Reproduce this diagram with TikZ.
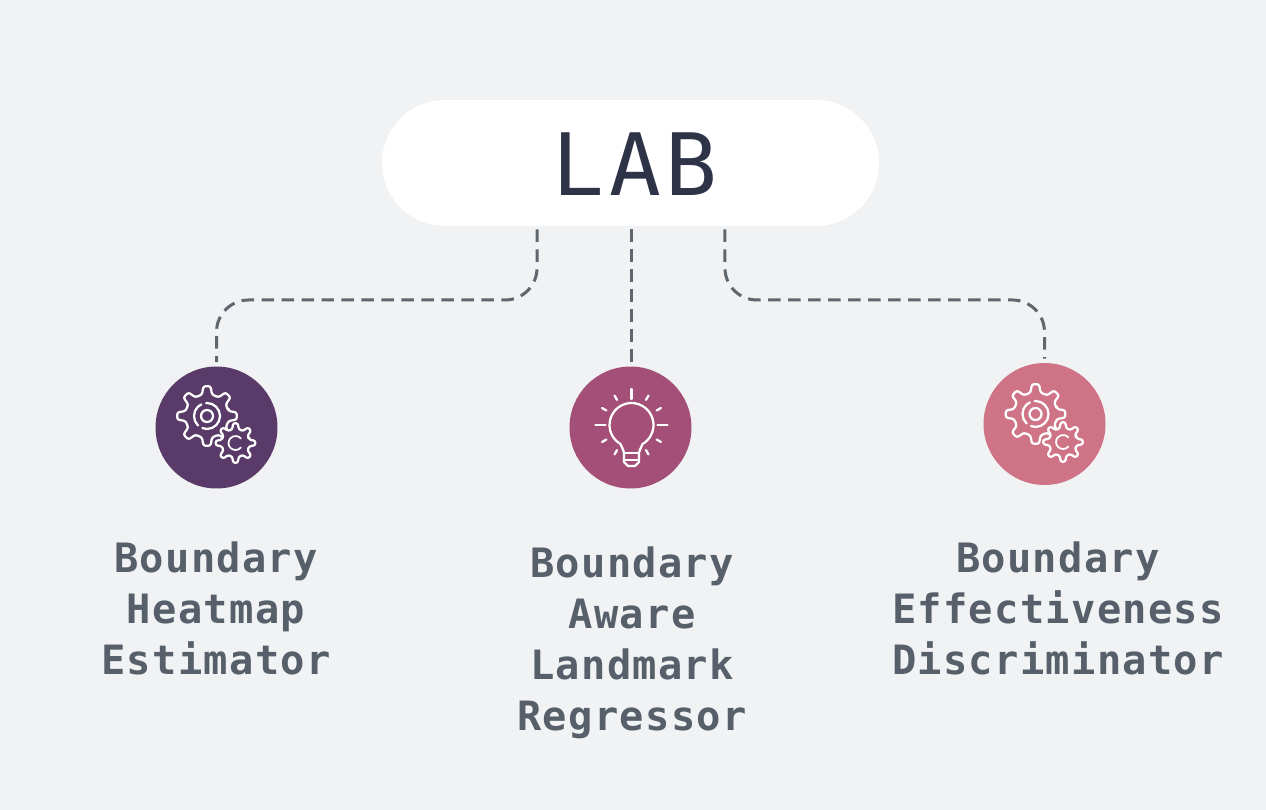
\documentclass[tikz,border=0pt]{standalone}
\usepackage{fontspec}
\newfontfamily\pillfont[LetterSpace=5.5]{DejaVu Sans Mono}
\newfontfamily\labelfont[LetterSpace=3.2]{DejaVu Sans Mono Bold}
\usetikzlibrary{positioning, calc}
\definecolor{labBg}{RGB}{240,242,244}
\definecolor{labInk}{RGB}{47,51,71}
\definecolor{labText}{RGB}{87,96,106}
\definecolor{labLink}{RGB}{95,102,109}
\definecolor{labPlum}{RGB}{90,58,105}
\definecolor{labRose}{RGB}{163,79,119}
\definecolor{labPink}{RGB}{207,116,134}
% one toothed wheel: centre x, centre y, outer radius, root radius, fill
\newcommand{\gearwheel}[5]{
\draw[iconline, rounded corners=1.3pt, fill=#5, shift={(#1,#2)}] (-13:#4)
  \foreach \a in {0,45,...,315} { -- (\a-13:#4) -- (\a-7:#3) -- (\a+7:#3) -- (\a+13:#4) } -- cycle;
}
\begin{document}
\begin{tikzpicture}[
    x=0.02cm, y=-0.02cm,
    pillbox/.style={fill=white, rectangle, rounded corners=1.26cm, inner sep=0pt, minimum width=9.94cm, minimum height=2.52cm, text=labInk},
    pilltext/.style={font=\pillfont\fontsize{49}{49}\selectfont, text=labInk, inner sep=0pt},
    iconbox/.style={circle, inner sep=0pt, minimum size=2.44cm},
    labeltext/.style={align=center, text=labText, font=\labelfont\fontsize{23}{29}\selectfont},
    link/.style={draw=labLink, line width=0.06cm, dash pattern=on 0.25cm off 0.15cm, rounded corners=0.64cm, shorten <=0.06cm, shorten >=0.08cm},
    iconline/.style={draw=white, line width=0.045cm, line cap=round, line join=round}
]
\useasboundingbox (0,0) rectangle (1266,810);
\fill[labBg] (0,0) rectangle (1266,810);

% Top pill
\node (lab) [pillbox] at (630.5,163) {};
\node (labText) [pilltext] at (635,164) {LAB};

% Circles
\node (heat) [iconbox, fill=labPlum] at (216.5,427.5) {};
\node (aware) [iconbox, fill=labRose] at (630.5,427.5) {};
\node (disc) [iconbox, fill=labPink] at (1044.5,424) {};

% Connectors
\coordinate (midL) at (377,300);
\coordinate (midR) at (885,300);
\draw[link] ([xshift=-1.87cm]lab.south) |- (midL) -| (heat.north);
\draw[link] ([xshift=0.02cm]lab.south) -- ([xshift=0.02cm]aware.north);
\draw[link] ([xshift=1.89cm]lab.south) |- (midR) -| (disc.north);

% Gears left
\gearwheel{207}{416}{30}{22}{labPlum}
\draw[iconline] (207,416) circle[radius=6];
\draw[iconline, dash pattern=on 0.5cm off 0.1cm] (207,416) circle[radius=13];
\gearwheel{235.5}{443}{20}{14}{labPlum}
\draw[iconline, line width=0.035cm] (235.5,443) ++(40:7) arc[start angle=40, end angle=320, radius=7];

% Bulb
\draw[iconline] (631.5,425) ++(120:22) arc[start angle=120, end angle=420, radius=22]
  .. controls (640,450) and (639,451) .. (639,453) -- (639,462) -- (635,466) -- (628,466) -- (624,462) -- (624,453)
  .. controls (624,451) and (623,450) .. (620.5,444);
\draw[iconline] (624,453) -- (639,453) (625,460) -- (638,460);
\foreach \a in {0,90,180} \draw[iconline] (631.5,425) ++(-\a:26) -- ++(-\a:10);
\foreach \a in {30,60,120,150,210,240,300,330} \draw[iconline] (631.5,425) ++(-\a:29) -- ++(-\a:5);

% Gears right
\gearwheel{1035.5}{414}{30}{22}{labPink}
\draw[iconline] (1035.5,414) circle[radius=6];
\draw[iconline, dash pattern=on 0.5cm off 0.1cm] (1035.5,414) circle[radius=13];
\gearwheel{1063}{442}{20}{14}{labPink}
\draw[iconline, line width=0.035cm] (1063,442) ++(40:7) arc[start angle=40, end angle=320, radius=7];

% Labels
\node (heatText) [labeltext] at (216,608) {Boundary\\Heatmap\\Estimator};
\node (awareText) [labeltext] at (632,643) {Boundary\\Aware\\Landmark\\Regressor};
\node (discText) [labeltext] at (1058,608) {Boundary\\Effectiveness\\Discriminator};

\end{tikzpicture}
\end{document}
